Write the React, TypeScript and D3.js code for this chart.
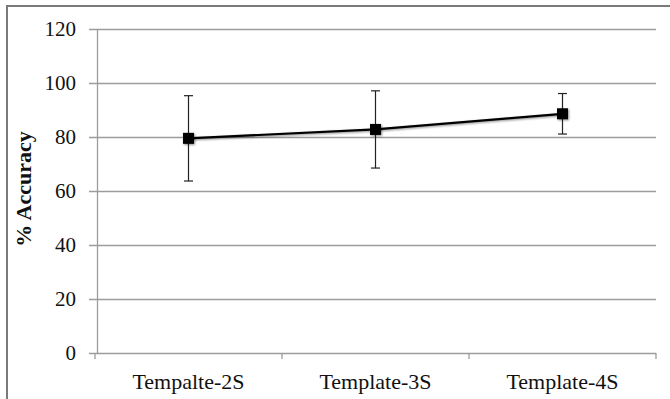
import React, { useRef, useEffect } from "react";
import * as d3 from "d3";

const categories = ["Tempalte-2S", "Template-3S", "Template-4S"];
const accuracy = [79.5, 82.8, 88.6];
const errors = [15.8, 14.3, 7.5];
const yTicks = [0, 20, 40, 60, 80, 100, 120];

const App = () => {
  const svgRef = useRef<SVGSVGElement>(null);

  useEffect(() => {
    const svg = d3.select(svgRef.current);
    svg.selectAll("*").remove();

    const width = 670;
    const height = 399;
    const margin = { top: 29, right: 14, bottom: 46, left: 95 };
    const font = "Liberation Serif";

    svg.append("rect").attr("width", width).attr("height", height).attr("fill", "#fff");

    const defs = svg.append("defs");
    defs.append("filter")
      .attr("id", "shadow")
      .attr("x", "-50%").attr("y", "-50%").attr("width", "200%").attr("height", "200%")
      .append("feDropShadow")
      .attr("dx", 1).attr("dy", 1).attr("stdDeviation", 1.2)
      .attr("flood-color", "#000").attr("flood-opacity", 0.45);

    // outer frame (cropped at right and bottom in the source)
    svg.append("path")
      .attr("d", `M7,${height} V6 H${width}`)
      .attr("fill", "none")
      .attr("stroke", "#7a7a7a")
      .attr("stroke-width", 2);

    const x = d3.scaleBand()
      .domain(categories)
      .range([margin.left, width - margin.right]);

    const y = d3.scaleLinear()
      .domain([0, 120])
      .range([height - margin.bottom, margin.top]);

    // gridlines
    svg.append("g")
      .selectAll("line")
      .data(yTicks)
      .enter()
      .append("line")
      .attr("x1", margin.left - 6)
      .attr("x2", width - margin.right)
      .attr("y1", d => Math.round(y(d)) + 0.5)
      .attr("y2", d => Math.round(y(d)) + 0.5)
      .attr("stroke", "#9c9c9c")
      .attr("stroke-width", 1.3);

    // y axis line
    svg.append("line")
      .attr("x1", margin.left + 2.5).attr("x2", margin.left + 2.5)
      .attr("y1", y(120)).attr("y2", y(0))
      .attr("stroke", "#9c9c9c")
      .attr("stroke-width", 1.3);

    // x tick marks at band edges
    const edges = categories.map(c => x(c)!).concat([x.range()[1]]);
    svg.append("g")
      .selectAll("line")
      .data(edges)
      .enter()
      .append("line")
      .attr("x1", d => d).attr("x2", d => d)
      .attr("y1", y(0)).attr("y2", y(0) + 6)
      .attr("stroke", "#9c9c9c")
      .attr("stroke-width", 1.3);

    // y tick labels
    svg.append("g")
      .selectAll("text")
      .data(yTicks)
      .enter()
      .append("text")
      .attr("x", 76)
      .attr("y", d => y(d))
      .attr("dy", "0.34em")
      .attr("text-anchor", "end")
      .style("font-family", font)
      .style("font-size", "21px")
      .attr("fill", "#111")
      .text(d => d);

    // x labels
    svg.append("g")
      .selectAll("text")
      .data(categories)
      .enter()
      .append("text")
      .attr("x", d => x(d)! + x.bandwidth() / 2)
      .attr("y", 389)
      .attr("text-anchor", "middle")
      .style("font-family", font)
      .style("font-size", "22px")
      .attr("fill", "#111")
      .text(d => d);

    // y title
    svg.append("text")
      .attr("text-anchor", "middle")
      .attr("transform", `translate(31,189)rotate(-90)`)
      .style("font-family", font)
      .style("font-size", "22px")
      .style("font-weight", "bold")
      .attr("fill", "#111")
      .text("% Accuracy");

    const cx = (i: number) => x(categories[i])! + x.bandwidth() / 2;

    // error bars
    const eb = svg.append("g").attr("stroke", "#222").attr("stroke-width", 1.2);
    accuracy.forEach((v, i) => {
      const top = y(v + errors[i]);
      const bot = y(v - errors[i]);
      eb.append("line").attr("x1", cx(i)).attr("x2", cx(i)).attr("y1", top).attr("y2", bot);
      eb.append("line").attr("x1", cx(i) - 4.5).attr("x2", cx(i) + 4.5).attr("y1", top).attr("y2", top);
      eb.append("line").attr("x1", cx(i) - 4.5).attr("x2", cx(i) + 4.5).attr("y1", bot).attr("y2", bot);
    });

    // line
    const line = d3.line<number>()
      .x((_, i) => cx(i))
      .y(d => y(d));

    svg.append("path")
      .datum(accuracy)
      .attr("d", line)
      .attr("fill", "none")
      .attr("stroke", "#000")
      .attr("stroke-width", 2.2)
      .attr("filter", "url(#shadow)");

    // markers
    const s = 11;
    svg.append("g")
      .attr("filter", "url(#shadow)")
      .selectAll("rect")
      .data(accuracy)
      .enter()
      .append("rect")
      .attr("x", (_, i) => cx(i) - s / 2)
      .attr("y", d => y(d) - s / 2)
      .attr("width", s)
      .attr("height", s)
      .attr("fill", "#000");
  }, []);

  return <svg ref={svgRef} width={670} height={399} style={{ display: "block", position: "absolute", left: 0, top: 0 }} />;
};

export default App;
